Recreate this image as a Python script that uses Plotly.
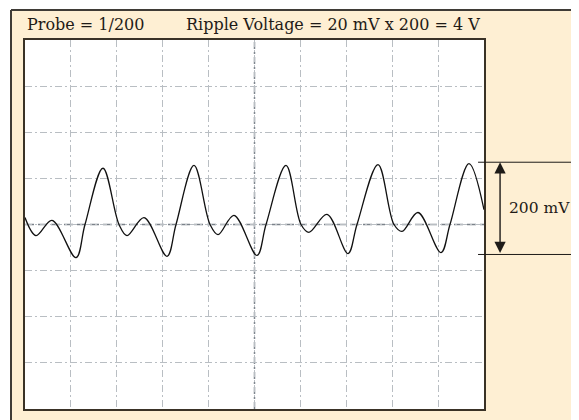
import plotly.graph_objects as go

# ---- data (x in divisions, y in mV, 100 mV/div) ----
time_div = [0.000, 0.240, 0.588, 1.111, 1.307, 1.699, 2.048, 2.222,
            2.593, 3.094, 3.290, 3.682, 4.031, 4.205, 4.553, 5.054,
            5.251, 5.686, 6.013, 6.187, 6.580, 7.037, 7.233,
            7.691, 8.039, 8.214, 8.562, 9.063, 9.259, 9.673, 10.000]
ripple_mv = [15, -24, 9, -72, 0, 122, 0, -24,
             15, -69, 0, 128, 0, -22, 20, -67,
             0, 128, 0, -17, 22, -63, 0,
             130, 0, -15, 26, -61, 0, 132, 32]

x_divisions = 10
y_divisions = 8
mv_per_div = 100
arrow_bottom_mv = -65
arrow_span_mv = 200

title_left = "Probe = 1/200"
title_right = "Ripple Voltage = 20 mV x 200 = 4 V"
span_label = "200 mV"

cream = "#feefd3"
text_col = "#1f1b17"
font_family = "DejaVu Serif"

fig = go.Figure()
fig.add_trace(go.Scatter(
    x=time_div, y=ripple_mv, mode="lines",
    line=dict(color="#111111", width=1.3, shape="spline", smoothing=1.0),
    hoverinfo="skip", showlegend=False))

grid = dict(showgrid=True, gridcolor="#b9bec3", gridwidth=1.4,
            griddash="7px,3px,2px,3px", zeroline=False, showticklabels=False,
            ticks="", showline=True, mirror=True, linecolor="#3a3226",
            linewidth=1.5, fixedrange=True)

fig.update_xaxes(range=[0, x_divisions], dtick=1, tick0=0, **grid)
fig.update_yaxes(range=[-y_divisions / 2 * mv_per_div, y_divisions / 2 * mv_per_div],
                 dtick=mv_per_div, tick0=0, **grid)

shapes = []
# white strips outside the cream panel (top and left)
shapes.append(dict(type="rect", xref="paper", yref="paper", x0=-0.2, x1=-0.0305,
                   y0=-0.2, y1=1.3, fillcolor="white", line=dict(width=0), layer="below"))
shapes.append(dict(type="rect", xref="paper", yref="paper", x0=-0.2, x1=1.4,
                   y0=1.0813, y1=1.3, fillcolor="white", line=dict(width=0), layer="below"))
# panel frame lines (left and top)
shapes.append(dict(type="line", xref="paper", yref="paper", x0=-0.0305, x1=-0.0305,
                   y0=-0.2, y1=1.0813, line=dict(color="#3f3b36", width=2)))
shapes.append(dict(type="line", xref="paper", yref="paper", x0=-0.0305, x1=1.4,
                   y0=1.0813, y1=1.0813, line=dict(color="#3f3b36", width=2)))
# centre graticule lines (darker)
shapes.append(dict(type="line", xref="x", yref="paper", x0=x_divisions / 2, x1=x_divisions / 2,
                   y0=0, y1=1, line=dict(color="#7f868e", width=1.5, dash="7px,3px,2px,3px"),
                   layer="below"))
shapes.append(dict(type="line", xref="paper", yref="y", x0=0, x1=1, y0=0, y1=0,
                   line=dict(color="#7b828a", width=1.5, dash="9px,4px"), layer="below"))
# 200 mV measurement lines
for yv in (arrow_bottom_mv, arrow_bottom_mv + arrow_span_mv):
    shapes.append(dict(type="line", xref="paper", yref="y", x0=0.987, x1=1.198,
                       y0=yv, y1=yv, line=dict(color="#1e1b18", width=1)))

annotations = [
    dict(text=title_left, xref="paper", yref="paper", x=0.0, y=1.0407,
         xanchor="left", yanchor="middle", showarrow=False,
         font=dict(family=font_family, size=16, color=text_col)),
    dict(text=title_right, xref="paper", yref="paper", x=0.347, y=1.0407,
         xanchor="left", yanchor="middle", showarrow=False,
         font=dict(family=font_family, size=16, color=text_col)),
    dict(text=span_label, xref="paper", yref="y", x=1.05,
         y=arrow_bottom_mv + arrow_span_mv / 2,
         xanchor="left", yanchor="middle", showarrow=False,
         font=dict(family=font_family, size=15.5, color=text_col)),
    dict(text="", xref="paper", yref="y", x=1.035, y=arrow_bottom_mv + arrow_span_mv,
         ax=0, ay=arrow_bottom_mv, axref="pixel", ayref="y",
         showarrow=True, arrowhead=2, arrowside="end+start", arrowsize=1.6,
         arrowwidth=1.4, arrowcolor="#1e1b18", standoff=0, startstandoff=0),
]

# the page body adds an 8 px margin, so the figure is 8 px smaller
fig.update_layout(
    width=571, height=412,
    margin=dict(l=17, r=95, t=32, b=11, pad=0),
    paper_bgcolor=cream, plot_bgcolor="white",
    shapes=shapes, annotations=annotations,
    showlegend=False,
)

fig.write_html("out.html", config={"displayModeBar": False})
